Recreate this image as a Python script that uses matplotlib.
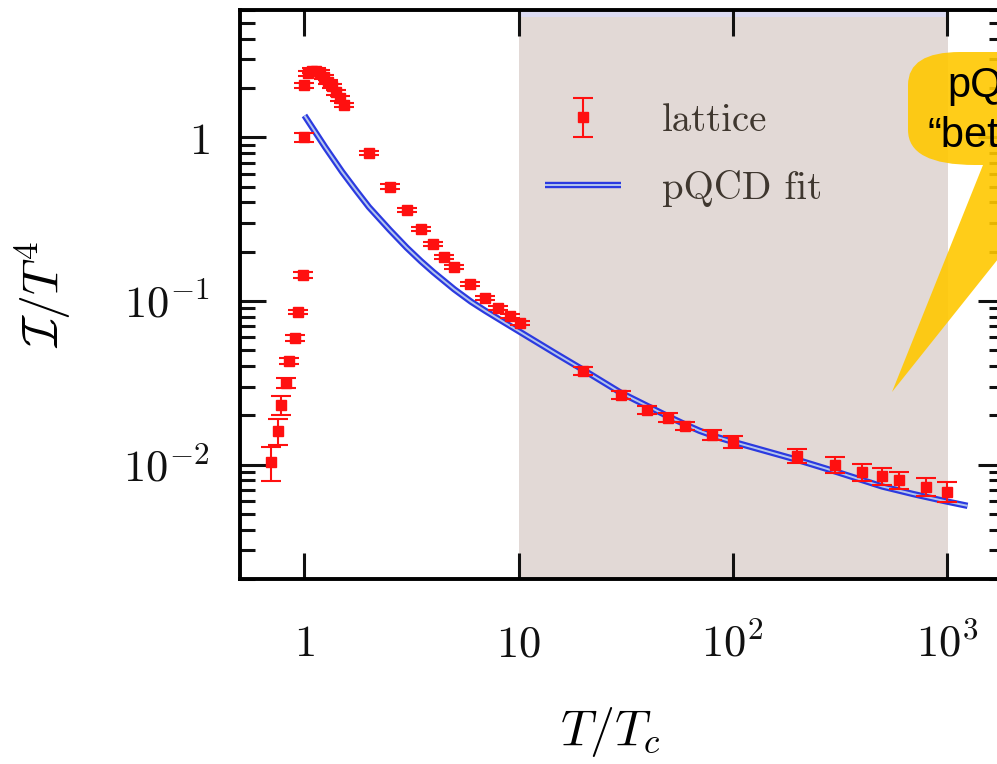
import numpy as np
import matplotlib.pyplot as plt
from matplotlib.path import Path
from matplotlib.patches import PathPatch
from matplotlib.transforms import IdentityTransform
from matplotlib.legend_handler import HandlerTuple
from matplotlib.ticker import NullLocator, LogLocator

plt.rcParams['mathtext.fontset'] = 'cm'

# lattice points (T/Tc, I/T^4, relative error)
t_lat = [0.70, 0.75, 0.78, 0.82, 0.85, 0.90, 0.93, 0.985, 0.99, 1.0,
         1.04, 1.08, 1.13, 1.18, 1.23, 1.29, 1.34, 1.40, 1.46, 1.53,
         2.0, 2.5, 3.0, 3.5, 4.0, 4.5, 5.0, 5.9, 7.0, 8.0, 9.1, 10.2,
         20, 30, 40, 50, 60, 80, 100, 200, 300, 400, 500, 600, 800, 1000]
i_lat = [0.0104, 0.0161, 0.0232, 0.0316, 0.043, 0.0594, 0.0857, 0.144, 1.0, 2.08,
         2.46, 2.56, 2.56, 2.49, 2.35, 2.19, 2.05, 1.88, 1.73, 1.57,
         0.80, 0.50, 0.36, 0.275, 0.223, 0.185, 0.161, 0.127, 0.104, 0.091, 0.081, 0.0734,
         0.0375, 0.0267, 0.0216, 0.0194, 0.0173, 0.0152, 0.0138,
         0.01135, 0.0100, 0.00906, 0.00857, 0.0081, 0.00734, 0.00684]
err_rel = [0.24, 0.18, 0.13, 0.065, 0.04, 0.04, 0.035, 0.04, 0.07, 0.04,
           0.03, 0.03, 0.03, 0.03, 0.03, 0.03, 0.03, 0.03, 0.03, 0.03,
           0.03, 0.03, 0.03, 0.03, 0.03, 0.03, 0.03, 0.03, 0.03, 0.03, 0.03, 0.03,
           0.06, 0.06, 0.06, 0.06, 0.06, 0.07, 0.08,
           0.10, 0.11, 0.12, 0.12, 0.12, 0.13, 0.14]

# pQCD fit curve
t_fit = [1.0, 1.25, 1.5, 1.75, 2.0, 2.5, 3.0, 3.5, 4.0, 5.0, 6.0, 7.0, 8.5, 10,
         15, 20, 30, 40, 50, 60, 70, 85, 100, 200, 300, 500, 700, 1000, 1250]
i_fit = [1.36, 0.87, 0.615, 0.47, 0.375, 0.272, 0.212, 0.175, 0.150, 0.118, 0.099,
         0.087, 0.0745, 0.0655, 0.0475, 0.038, 0.0275, 0.0228, 0.0197, 0.0176, 0.0161,
         0.0147, 0.0138, 0.0107, 0.0091, 0.00735, 0.0066, 0.00595, 0.0056]

x_ticks = [1, 10, 100, 1000]
x_labels = [r'$1$', r'$10$', r'$10^{2}$', r'$10^{3}$']
y_ticks = [0.01, 0.1, 1]
y_labels = [r'$10^{-2}$', r'$10^{-1}$', r'$1$']

W, H = 997, 764
fig = plt.figure(figsize=(W / 100, H / 100), dpi=100)
ax = fig.add_axes([240 / W, 1 - 579 / H, (1004 - 240) / W, (579 - 10) / H])
ax.set_xscale('log')
ax.set_yscale('log')
ax.set_xlim(0.5, 1850)
ax.set_ylim(0.002, 6)

# shaded background block
ax.axvspan(10, 1015, color='#e2d9d6', lw=0, zorder=0)
ax.axvspan(10, 1015, ymin=1 - 7 / 569, ymax=1, color='#dcdbf2', lw=0, zorder=0.5)

l1, = ax.plot(t_fit, i_fit, color='#2b3ae0', lw=4.6, solid_capstyle='butt', zorder=2)
l2, = ax.plot(t_fit, i_fit, color='#b4c6ec', lw=1.4, solid_capstyle='butt', zorder=2.1)

yerr = np.array(i_lat) * np.array(err_rel)
eb = ax.errorbar(t_lat, i_lat, yerr=yerr, fmt='s', color='#ff1010', ms=6.5,
                 elinewidth=1.5, capsize=7, capthick=1.5, zorder=3)

ax.set_xticks(x_ticks, x_labels)
ax.set_yticks(y_ticks, y_labels)
ax.xaxis.set_minor_locator(NullLocator())
ax.yaxis.set_minor_locator(LogLocator(subs=np.arange(2, 10)))
ax.tick_params(which='both', direction='in', top=True, right=True, width=2.2,
               colors='#111111')
ax.tick_params(which='major', length=18.5)
ax.tick_params(which='minor', length=10.5)
ax.tick_params(axis='x', which='major', labelsize=32, pad=31)
ax.tick_params(axis='y', which='major', labelsize=32, pad=22)
for s in ax.spines.values():
    s.set_linewidth(2.8)

ax.set_xlabel(r'$T/T_c$', fontsize=36)
ax.xaxis.set_label_coords((610 - 240) / (1004 - 240), -0.222)
ax.set_ylabel(r'$\mathcal{I}/T^4$', fontsize=36)
ax.yaxis.set_label_coords(-0.219, 0.5)

leg = ax.legend([eb, (l1, l2)], ['lattice', 'pQCD fit'],
                handler_map={tuple: HandlerTuple(ndivide=1)},
                loc='upper left', bbox_to_anchor=(545 / W, 1 - 103 / H),
                bbox_transform=fig.transFigure, frameon=False,
                prop={'family': 'cmr10', 'size': 28}, handlelength=1.95,
                handletextpad=1.05, labelspacing=0.8, borderpad=0, borderaxespad=0)
for t in leg.get_texts():
    t.set_color('#3f372f')

# speech bubble (pixel coordinates, y measured from top)
pts = [(1073, 165), (892, 392), (983, 165), (975, 165), (908, 165), (908, 130),
       (908, 85), (908, 52), (960, 52), (1120, 52), (1120, 165), (1073, 165)]
codes = [Path.MOVETO, Path.LINETO, Path.LINETO, Path.LINETO, Path.CURVE3, Path.CURVE3,
         Path.LINETO, Path.CURVE3, Path.CURVE3, Path.LINETO, Path.LINETO, Path.CLOSEPOLY]
bubble = PathPatch(Path([(x, H - y) for x, y in pts], codes), facecolor='#ffc800',
                   edgecolor='none', alpha=0.9, transform=IdentityTransform(), zorder=5)
fig.add_artist(bubble)
fig.text(947 / W, 1 - 97 / H, 'pQCD', fontsize=30, family='Liberation Sans',
         va='baseline', ha='left', color='black', zorder=6)
fig.text(927 / W, 1 - 147 / H, '\u201cbetter\u201d', fontsize=30, family='Liberation Sans',
         va='baseline', ha='left', color='black', zorder=6)

fig.savefig('out.png', dpi=100)
